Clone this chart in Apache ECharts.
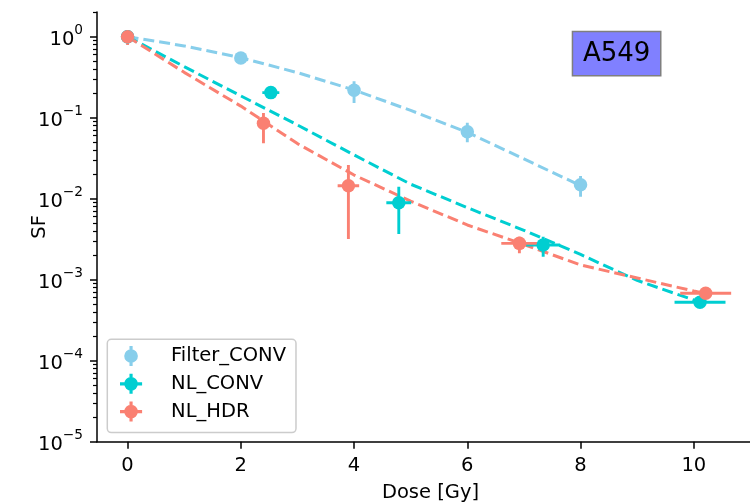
<!DOCTYPE html>
<html>
<head>
<meta charset="utf-8">
<script src="https://cdn.jsdelivr.net/npm/echarts@6/dist/echarts.min.js"></script>
<style>
html,body{margin:0;padding:0;background:#fff;}
#chart{width:750px;height:503px;}
</style>
</head>
<body>
<div id="chart"></div>
<script>
// ---- data (SF values) ----
const filterDose = [0, 2, 4, 6, 8];
const filterSF = [1.0, 0.547, 0.218, 0.067, 0.0149];
const filterLow = [1.0, 0.52, 0.152, 0.0499, 0.0106];
const filterHigh = [1.0, 0.575, 0.281, 0.0865, 0.019];
const filterDoseErr = [0, 0, 0, 0, 0];

const convDose = [0, 2.53, 4.79, 7.34, 10.11];
const convSF = [1.0, 0.204, 0.00893, 0.00268, 0.000526];
const convLow = [1.0, 0.18, 0.00367, 0.00192, 0.00048];
const convHigh = [1.0, 0.235, 0.01407, 0.0034, 0.00058];
const convDoseErr = [0, 0.15, 0.22, 0.30, 0.45];

const hdrDose = [0, 2.40, 3.90, 6.92, 10.21];
const hdrSF = [1.0, 0.0853, 0.01446, 0.00281, 0.00068];
const hdrLow = [0.79, 0.0483, 0.00318, 0.00212, 0.00062];
const hdrHigh = [1.1, 0.114, 0.0261, 0.0034, 0.00074];
const hdrDoseErr = [0.05, 0.1, 0.19, 0.32, 0.45];

const filterFitDose = [0, 1, 2, 3, 4, 5, 6, 7, 8];
const filterFitSF = [1.0, 0.77, 0.55, 0.36, 0.22, 0.123, 0.066, 0.031, 0.0145];
const convFitDose = [0, 1, 2, 3, 4, 5, 6, 7, 8, 9, 10, 10.11];
const convFitSF = [1.0, 0.427, 0.186, 0.0813, 0.0347, 0.0151, 0.00776, 0.00407, 0.00205, 0.00098, 0.000562, 0.000525];
const hdrFitDose = [0, 1, 2, 3, 4, 5, 6, 7, 8, 9, 10, 10.21];
const hdrFitSF = [1.0, 0.363, 0.139, 0.0479, 0.0196, 0.00933, 0.00474, 0.00272, 0.00152, 0.00105, 0.000724, 0.000676];

const doseTicks = [0, 2, 4, 6, 8, 10];
const sfDecades = [-5, -4, -3, -2, -1, 0];
const minorMultipliers = [2, 3, 4, 5, 6, 7, 8, 9];

const seriesNames = ['Filter_CONV', 'NL_CONV', 'NL_HDR'];
const colors = ['#87CEEB', '#00CED1', '#FA8072'];

// ---- helpers ----
const L = v => Math.log10(v);
const Y_MIN = -5, Y_MAX = 0.305, X_MIN = -0.54, X_MAX = 11.24;
const FONT = 'DejaVu Sans';

const minorTicks = [];
sfDecades.forEach(d => minorMultipliers.forEach(m => {
  const v = d + L(m);
  if (v < Y_MAX) minorTicks.push(v);
}));

function pts(xs, ys) { return xs.map((x, i) => [x, L(ys[i])]); }
function errRows(xs, ys, lo, hi, xe) {
  return xs.map((x, i) => [x, L(ys[i]), L(lo[i]), L(hi[i]), x - xe[i], x + xe[i]]);
}

function errSeries(rows, color) {
  return {
    type: 'custom', silent: true, z: 3, clip: true,
    data: rows,
    encode: { x: [0, 4, 5], y: [1, 2, 3] },
    renderItem: function (params, api) {
      const x = api.value(0), y = api.value(1);
      const lo = api.coord([x, api.value(2)]);
      const hi = api.coord([x, api.value(3)]);
      const le = api.coord([api.value(4), y]);
      const ri = api.coord([api.value(5), y]);
      const st = { stroke: color, lineWidth: 2.9 };
      return {
        type: 'group',
        children: [
          { type: 'line', shape: { x1: lo[0], y1: lo[1], x2: hi[0], y2: hi[1] }, style: st },
          { type: 'line', shape: { x1: le[0], y1: le[1], x2: ri[0], y2: ri[1] }, style: st }
        ]
      };
    }
  };
}
function fitSeries(xs, ys, color) {
  return {
    type: 'line', name: 'fit', data: pts(xs, ys), showSymbol: false, symbol: 'none',
    smooth: false, z: 2, silent: true,
    lineStyle: { color: color, width: 3, type: [11, 5] }
  };
}
function dotSeries(name, xs, ys, color) {
  return {
    type: 'scatter', name: name, data: pts(xs, ys), symbol: 'circle', symbolSize: 13.5,
    itemStyle: { color: color, opacity: 1 }, z: 4, silent: true
  };
}

const iconV = 'path://M3.5,10 A6.5,6.5 0 0,1 16.5,10 A6.5,6.5 0 0,1 3.5,10 Z M8.5,0.5 L11.5,0.5 L11.5,19.5 L8.5,19.5 Z';
const iconX = 'path://M3.5,10 A6.5,6.5 0 0,1 16.5,10 A6.5,6.5 0 0,1 3.5,10 Z M8.5,0.5 L11.5,0.5 L11.5,19.5 L8.5,19.5 Z M-0.5,8.5 L20.5,8.5 L20.5,11.5 L-0.5,11.5 Z';

const chart = echarts.init(document.getElementById('chart'), null, { renderer: 'canvas' });
const option = {
  animation: false,
  backgroundColor: '#ffffff',
  textStyle: { fontFamily: FONT },
  grid: { left: 97, width: 667, top: 12, height: 429.7, containLabel: false, outerBoundsMode: 'none' },
  xAxis: {
    type: 'value', min: X_MIN, max: X_MAX,
    name: 'Dose [Gy]', nameLocation: 'middle', nameGap: 41, nameMoveOverlap: false,
    nameTextStyle: { fontFamily: FONT, fontSize: 19.5, color: '#000' },
    axisLine: { onZero: false, lineStyle: { color: '#000', width: 1.5 } },
    axisTick: { customValues: doseTicks, length: 7, lineStyle: { color: '#000', width: 1.5 } },
    axisLabel: { customValues: doseTicks, margin: 14, fontFamily: FONT, fontSize: 19.5, color: '#000',
      formatter: v => String(v) },
    splitLine: { show: false }
  },
  yAxis: [{
    type: 'value', min: Y_MIN, max: Y_MAX,
    name: 'SF', nameLocation: 'middle', nameGap: 47, nameRotate: 90, nameMoveOverlap: false,
    nameTextStyle: { fontFamily: FONT, fontSize: 19.5, color: '#000' },
    axisLine: { onZero: false, lineStyle: { color: '#000', width: 1.5 } },
    axisTick: { customValues: sfDecades, length: 7, lineStyle: { color: '#000', width: 1.5 } },
    axisLabel: {
      customValues: sfDecades, margin: 14, color: '#000',
      formatter: v => '{b|10}{s|' + (v === 0 ? '0' : '\u2212' + Math.abs(v)) + '}',
      rich: {
        b: { fontFamily: FONT, fontSize: 19.5, color: '#000', lineHeight: 26, verticalAlign: 'bottom' },
        s: { fontFamily: FONT, fontSize: 13.7, color: '#000', lineHeight: 14, verticalAlign: 'top' }
      }
    },
    splitLine: { show: false }
  }, {
    type: 'value', min: Y_MIN, max: Y_MAX, position: 'left',
    axisLine: { show: false, onZero: false },
    axisTick: { show: true, customValues: minorTicks, length: 4, lineStyle: { color: '#000', width: 1.2 } },
    axisLabel: { show: false },
    splitLine: { show: false }
  }],
  legend: {
    orient: 'vertical', left: 107.3, top: 339.3,
    selectedMode: false,
    itemWidth: 30, itemHeight: 20, itemGap: 7.8,
    padding: [6.7, 10, 11, 12.7],
    backgroundColor: 'rgba(255,255,255,0.8)',
    borderColor: '#cccccc', borderWidth: 1.5, borderRadius: 4,
    textStyle: { fontFamily: FONT, fontSize: 19.5, color: '#000', padding: [0, 0, 0, 20], lineHeight: 20 },
    data: [
      { name: 'Filter_CONV', icon: iconV },
      { name: 'NL_CONV', icon: iconX },
      { name: 'NL_HDR', icon: iconX }
    ]
  },
  graphic: [{
    type: 'group', left: 571.7, top: 30.7, z: 100,
    children: [
      { type: 'rect', shape: { x: 0, y: 0, width: 88.3, height: 44.3 },
        style: { fill: '#8080FF', stroke: '#7f7f7f', lineWidth: 1.5 } },
      { type: 'text', x: 44.15, y: 22.6,
        style: { text: 'A549', fontFamily: FONT, fontSize: 26, fill: '#000', align: 'center', verticalAlign: 'middle' } }
    ]
  }],
  series: [
    fitSeries(filterFitDose, filterFitSF, colors[0]),
    fitSeries(convFitDose, convFitSF, colors[1]),
    fitSeries(hdrFitDose, hdrFitSF, colors[2]),
    errSeries(errRows(filterDose, filterSF, filterLow, filterHigh, filterDoseErr), colors[0]),
    dotSeries(seriesNames[0], filterDose, filterSF, colors[0]),
    errSeries(errRows(convDose, convSF, convLow, convHigh, convDoseErr), colors[1]),
    dotSeries(seriesNames[1], convDose, convSF, colors[1]),
    errSeries(errRows(hdrDose, hdrSF, hdrLow, hdrHigh, hdrDoseErr), colors[2]),
    dotSeries(seriesNames[2], hdrDose, hdrSF, colors[2])
  ]
};
chart.setOption(option);
</script>
</body>
</html>
